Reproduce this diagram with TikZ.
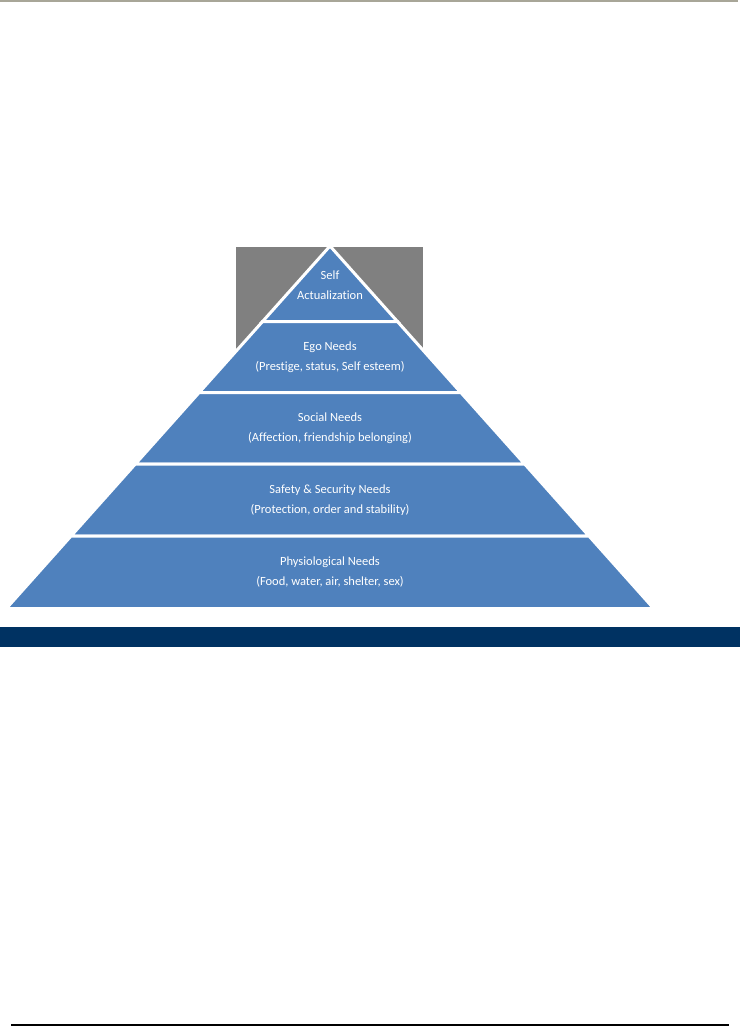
\documentclass[tikz,border=0pt]{standalone}
\usepackage{fontspec}
\setmainfont{Carlito}[Ligatures=NoCommon]
\usepackage{xcolor}
\usetikzlibrary{calc}
\definecolor{pyrblue}{RGB}{79,129,189}
\definecolor{boxgray}{RGB}{128,128,128}
\definecolor{barnavy}{RGB}{0,50,98}
\definecolor{rulegray}{RGB}{168,166,152}
\tikzset{level/.style={fill=pyrblue, draw=white, line width=3, line join=miter},
  caption/.style={white, align=center, inner sep=0, font=\fontsize{12.5}{20}\selectfont}}

\begin{document}
\begin{tikzpicture}[x=1pt,y=-1pt]
\useasboundingbox (0,0) rectangle (740,1029);
\fill[rulegray] (0,0) rectangle (738,2);
\fill[boxgray] (236,247) rectangle (423,352);
\foreach \t/\b in {246/321.5, 321.5/392.5, 392.5/464, 464/536, 536/608.5} {
\filldraw[level] ({330-(\t-246)*0.893},\t) -- ({330+(\t-246)*0.893},\t) -- ({330+(\b-246)*0.893},\b) -- ({330-(\b-246)*0.893},\b) -- cycle;
}
\node[caption] (self) at (330,285) {Self\\Actualization};
\node[caption] (ego) at (330,357) {Ego Needs\\(Prestige, status, Self esteem)};
\node[caption] (social) at (330,428.5) {Social Needs\\(Affection, friendship belonging)};
\node[caption] (safety) at (330,500) {Safety \& Security Needs\\(Protection, order and stability)};
\node[caption] (physio) at (330,572.5) {Physiological Needs\\(Food, water, air, shelter, sex)};
\fill[barnavy] (0,627) rectangle (740,647);
\draw[black, line width=2] (11,1025) -- (729,1025);
\end{tikzpicture}
\end{document}
